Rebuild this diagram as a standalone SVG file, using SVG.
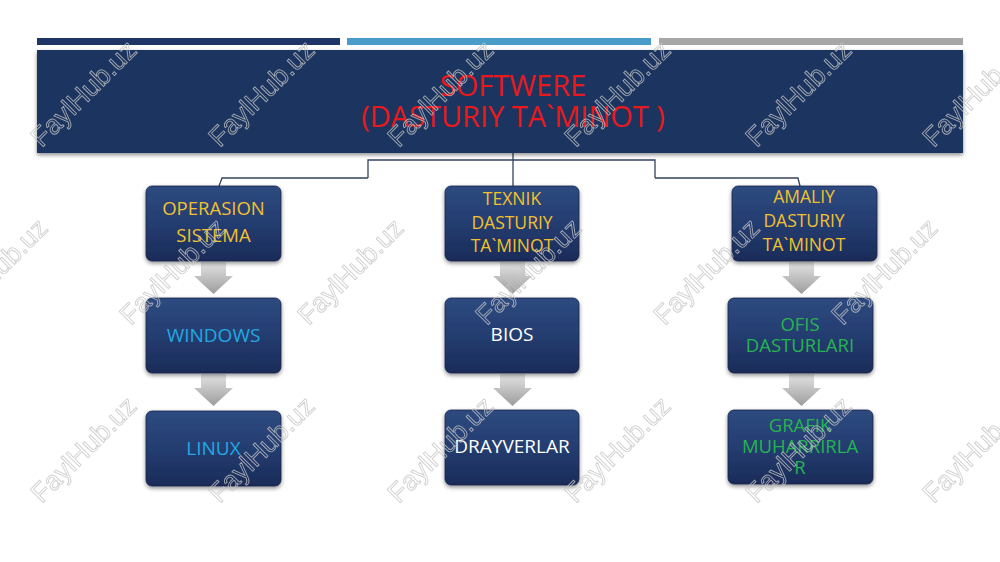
<svg xmlns="http://www.w3.org/2000/svg" width="1000" height="562" viewBox="0 0 1000 562">
<defs>
<linearGradient id="boxg" x1="0" y1="0" x2="0" y2="1">
<stop offset="0" stop-color="#2e4a80"/>
<stop offset="0.5" stop-color="#243d70"/>
<stop offset="1" stop-color="#1a2b58"/>
</linearGradient>
<linearGradient id="arrg" x1="0" y1="0" x2="0" y2="1">
<stop offset="0" stop-color="#e4e4e4"/>
<stop offset="1" stop-color="#9c9c9c"/>
</linearGradient>
<filter id="sh" x="-20%" y="-20%" width="140%" height="150%">
<feGaussianBlur in="SourceAlpha" stdDeviation="2"/>
<feOffset dx="0" dy="2" result="b"/>
<feComponentTransfer><feFuncA type="linear" slope="0.45"/></feComponentTransfer>
<feMerge><feMergeNode/><feMergeNode in="SourceGraphic"/></feMerge>
</filter>
</defs>
<style>
.box{fill:url(#boxg);stroke:#16244a;stroke-width:0.8;filter:url(#sh)}
.arr{fill:url(#arrg)}
.t{font-family:"Open Sans","Noto Sans",sans-serif;text-anchor:middle}
.y{fill:#f2c12e;font-size:17.5px}
.y1{fill:#f2c12e;font-size:18.5px}
.bl{fill:#22a9e2;font-size:19px}
.wh{fill:#ffffff;font-size:19px}
.gr{fill:#25b450;font-size:18.5px}
.title{fill:#e8191c;font-size:29px}
.conn{fill:none;stroke:#34435c;stroke-width:1.3}
.wm{font-family:"Liberation Sans",Arial,sans-serif;font-size:27px;fill:none;stroke:#c4c4c4;stroke-width:0.9;text-anchor:middle;opacity:0.8}
</style>
<rect width="1000" height="562" fill="#ffffff"/>
<g id="topbars">
<rect x="37" y="38" width="303" height="7" fill="#1f3566"/>
<rect x="347" y="38" width="304" height="7" fill="#4a9cc8"/>
<rect x="659" y="38" width="304" height="7" fill="#a6a6a6"/>
</g>
<g id="connectors">
<path class="conn" d="M513,153 V187"/>
<path class="conn" d="M368,178 V160 H655 V178"/>
<path class="conn" d="M368,178 H222 L219,186"/>
<path class="conn" d="M655,178 H798 L800,186"/>
<path class="arr" d="M201,262 H226 V276 H233 L213.5,294 L194,276 H201 Z"/>
<path class="arr" d="M201,374 H226 V388 H233 L213.5,406 L194,388 H201 Z"/>
<path class="arr" d="M500,262 H525 V276 H532 L512.5,294 L493,276 H500 Z"/>
<path class="arr" d="M500,374 H525 V388 H532 L512.5,406 L493,388 H500 Z"/>
<path class="arr" d="M789,262 H814 V276 H821 L801.5,294 L782,276 H789 Z"/>
<path class="arr" d="M789,374 H814 V388 H821 L801.5,406 L782,388 H789 Z"/>
</g>
<g id="root">
<rect x="37" y="50" width="926" height="103" fill="#1e3461" filter="url(#sh)"/>
<text class="t title" x="513" y="96">SOFTWERE</text>
<text class="t title" x="513" y="127">(DASTURIY TA`MINOT )</text>
</g>
<g id="os">
<rect class="box" x="146" y="186" width="135" height="75" rx="6"/>
<text class="t y1" x="213.5" y="215">OPERASION</text>
<text class="t y1" x="213.5" y="242">SISTEMA</text>
</g>
<g id="windows">
<rect class="box" x="146" y="298" width="135" height="75" rx="6"/>
<text class="t bl" x="213.5" y="342">WINDOWS</text>
</g>
<g id="linux">
<rect class="box" x="146" y="411" width="135" height="75" rx="6"/>
<text class="t bl" x="213.5" y="455">LINUX</text>
</g>
<g id="texnik">
<rect class="box" x="445" y="186" width="134" height="75" rx="6"/>
<text class="t y" x="512" y="205">TEXNIK</text>
<text class="t y" x="512" y="229">DASTURIY</text>
<text class="t y" x="512" y="252">TA`MINOT</text>
</g>
<g id="bios">
<rect class="box" x="445" y="298" width="134" height="75" rx="6"/>
<text class="t wh" x="512" y="341">BIOS</text>
</g>
<g id="drayverlar">
<rect class="box" x="445" y="410" width="134" height="75" rx="6"/>
<text class="t wh" x="512" y="453">DRAYVERLAR</text>
</g>
<g id="amaliy">
<rect class="box" x="732" y="186" width="145" height="75" rx="6"/>
<text class="t y" x="804" y="203">AMALIY</text>
<text class="t y" x="804" y="227">DASTURIY</text>
<text class="t y" x="804" y="251">TA`MINOT</text>
</g>
<g id="ofis">
<rect class="box" x="728" y="298" width="145" height="75" rx="6"/>
<text class="t gr" x="800" y="331">OFIS</text>
<text class="t gr" x="800" y="352">DASTURLARI</text>
</g>
<g id="grafik">
<rect class="box" x="728" y="410" width="145" height="74" rx="6"/>
<text class="t gr" x="800" y="432">GRAFIK</text>
<text class="t gr" x="800" y="453">MUHARRIRLA</text>
<text class="t gr" x="800" y="474">R</text>
</g>
<g id="watermarks">
<text class="wm" transform="translate(90,100) rotate(-45)">FaylHub.uz</text>
<text class="wm" transform="translate(268,100) rotate(-45)">FaylHub.uz</text>
<text class="wm" transform="translate(447,100) rotate(-45)">FaylHub.uz</text>
<text class="wm" transform="translate(624,100) rotate(-45)">FaylHub.uz</text>
<text class="wm" transform="translate(805,100) rotate(-45)">FaylHub.uz</text>
<text class="wm" transform="translate(982,100) rotate(-45)">FaylHub.uz</text>
<text class="wm" transform="translate(1,278) rotate(-45)">FaylHub.uz</text>
<text class="wm" transform="translate(179,278) rotate(-45)">FaylHub.uz</text>
<text class="wm" transform="translate(357,278) rotate(-45)">FaylHub.uz</text>
<text class="wm" transform="translate(535,278) rotate(-45)">FaylHub.uz</text>
<text class="wm" transform="translate(713,278) rotate(-45)">FaylHub.uz</text>
<text class="wm" transform="translate(891,278) rotate(-45)">FaylHub.uz</text>
<text class="wm" transform="translate(90,456) rotate(-45)">FaylHub.uz</text>
<text class="wm" transform="translate(268,456) rotate(-45)">FaylHub.uz</text>
<text class="wm" transform="translate(447,456) rotate(-45)">FaylHub.uz</text>
<text class="wm" transform="translate(624,456) rotate(-45)">FaylHub.uz</text>
<text class="wm" transform="translate(805,456) rotate(-45)">FaylHub.uz</text>
<text class="wm" transform="translate(982,456) rotate(-45)">FaylHub.uz</text>
</g>
</svg>
